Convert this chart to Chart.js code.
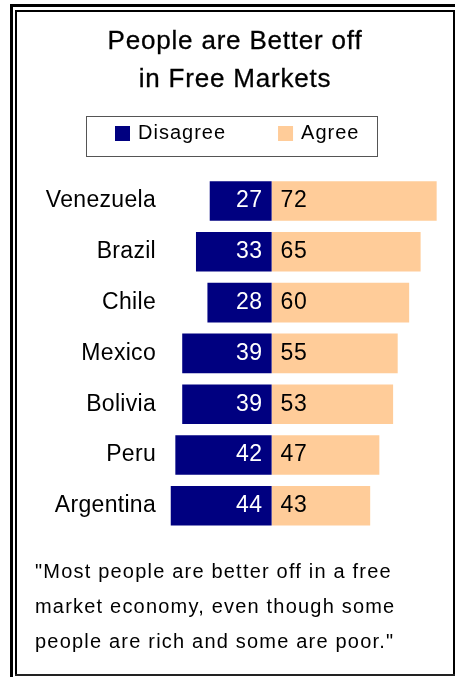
<!DOCTYPE html>
<html>
<head>
<meta charset="utf-8">
<script src="https://cdn.jsdelivr.net/npm/chart.js@4.4.1/dist/chart.umd.min.js"></script>
<style>
  html, body { margin: 0; padding: 0; background: #ffffff; }
  #wrap { position: relative; width: 455px; height: 677px; }
</style>
</head>
<body>
<div id="wrap"><canvas id="c" width="455" height="677"></canvas></div>
<script>
// Survey: share who agree / disagree that people are better off in free markets
const countries = ['Venezuela', 'Brazil', 'Chile', 'Mexico', 'Bolivia', 'Peru', 'Argentina'];
const disagree = [27, 33, 28, 39, 39, 42, 44];
const agree = [72, 65, 60, 55, 53, 47, 43];
const seriesNames = ['Disagree', 'Agree'];
const titleLines = ['People are Better off', 'in Free Markets'];
const noteLines = [
  '"Most people are better off in a free',
  'market economy, even though some',
  'people are rich and some are poor."'
];

const NAVY = '#000080';
const PEACH = '#FFCC99';
const FONT = '"Liberation Sans", Arial, sans-serif';

// Double frame, title, boxed legend and the quote underneath
const decorations = {
  id: 'decorations',
  beforeDraw(chart) {
    const ctx = chart.ctx;
    ctx.save();
    ctx.fillStyle = '#ffffff';
    ctx.fillRect(0, 0, chart.width, chart.height);
    ctx.fillStyle = '#000000';
    // outer frame
    ctx.fillRect(10, 4, 3, 673);
    ctx.fillRect(10, 4, 445, 3);
    // inner frame
    ctx.fillRect(15, 10, 2, 666);
    ctx.fillRect(15, 10, 440, 2);
    ctx.fillRect(453, 10, 2, 666);
    ctx.fillStyle = '#222222';
    ctx.fillRect(15, 674, 440, 2);
    ctx.restore();
    // slight tracking for the axis labels
    ctx.letterSpacing = '0.3px';
  },
  afterDraw(chart) {
    const ctx = chart.ctx;
    ctx.save();
    ctx.fillStyle = '#000000';
    ctx.strokeStyle = '#000000';
    ctx.textBaseline = 'middle';

    // title (regular face with a faint outline for a medium weight)
    ctx.textAlign = 'center';
    ctx.font = '26px ' + FONT;
    ctx.letterSpacing = '0.8px';
    ctx.lineWidth = 0.3;
    titleLines.forEach((t, i) => {
      ctx.fillText(t, 235, 42 + i * 38);
      ctx.strokeText(t, 235, 42 + i * 38);
    });

    // legend
    ctx.strokeStyle = '#555555';
    ctx.lineWidth = 1;
    ctx.strokeRect(86.5, 116.5, 291, 40);
    ctx.font = '20px ' + FONT;
    ctx.letterSpacing = '1px';
    ctx.textAlign = 'left';
    let x = 115;
    chart.data.datasets.forEach((ds) => {
      ctx.fillStyle = ds.backgroundColor;
      ctx.fillRect(x, 126, 15, 15);
      ctx.fillStyle = '#000000';
      ctx.fillText(ds.label, x + 23, 133);
      x += 23 + ctx.measureText(ds.label).width + 52;
    });

    // quote
    ctx.font = '20px ' + FONT;
    ctx.letterSpacing = '1.2px';
    noteLines.forEach((t, i) => ctx.fillText(t, 35, 572 + i * 35));
    ctx.restore();
  }
};

// Value labels: white inside the Disagree bars, black inside the Agree bars
const valueLabels = {
  id: 'valueLabels',
  afterDatasetsDraw(chart) {
    const ctx = chart.ctx;
    ctx.save();
    ctx.font = '23px ' + FONT;
    ctx.letterSpacing = '0.5px';
    ctx.textBaseline = 'middle';
    chart.data.datasets.forEach((ds, di) => {
      const meta = chart.getDatasetMeta(di);
      meta.data.forEach((bar, i) => {
        const v = Math.abs(ds.data[i]);
        if (di === 0) {
          ctx.fillStyle = '#ffffff';
          ctx.textAlign = 'right';
          ctx.fillText(String(v), bar.base - 9, bar.y);
        } else {
          ctx.fillStyle = '#000000';
          ctx.textAlign = 'left';
          ctx.fillText(String(v), bar.base + 9, bar.y);
        }
      });
    });
    ctx.restore();
  }
};

new Chart(document.getElementById('c'), {
  type: 'bar',
  data: {
    labels: countries,
    datasets: [
      { label: seriesNames[0], data: disagree.map(v => -v), backgroundColor: NAVY },
      { label: seriesNames[1], data: agree, backgroundColor: PEACH }
    ]
  },
  options: {
    indexAxis: 'y',
    responsive: false,
    animation: false,
    devicePixelRatio: 1,
    layout: { padding: { top: 175.6, bottom: 145.8, left: 0, right: 0 } },
    datasets: { bar: { categoryPercentage: 1, barPercentage: 0.78 } },
    scales: {
      x: { stacked: true, display: false, min: -50, max: 80 },
      y: {
        stacked: true,
        grid: { display: false, drawTicks: false },
        border: { display: false },
        afterFit(scale) { scale.width = 157; },
        ticks: {
          padding: 1,
          color: '#000000',
          font: { family: FONT, size: 23 }
        }
      }
    },
    plugins: {
      legend: { display: false },
      title: { display: false },
      tooltip: { enabled: false }
    }
  },
  plugins: [decorations, valueLabels]
});
</script>
</body>
</html>
